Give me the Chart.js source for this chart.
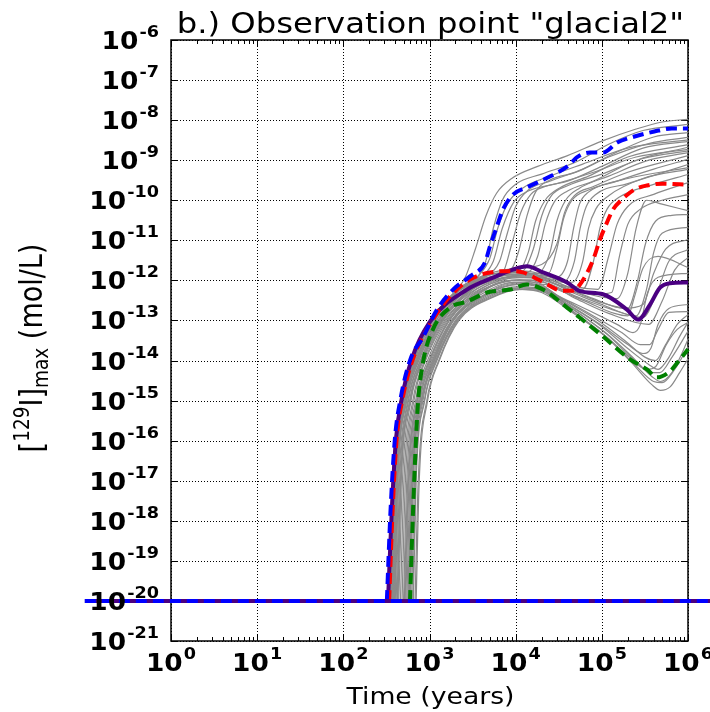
<!DOCTYPE html>
<html lang="en">
<head>
<meta charset="utf-8">
<title>Observation point glacial2</title>
<script src="https://cdn.jsdelivr.net/npm/chart.js@4.4.0/dist/chart.umd.min.js"></script>
<style>
	html, body { margin: 0; padding: 0; background: #fff; }
	canvas { display: block; }
</style>
</head>
<body>
<canvas id="chart-0" width="710" height="712"></canvas>
<script>
	// [time (years), [129I] (mol/L)] for the highlighted realisations
	var purpleRun = [[330,1e-20],[364,1.6e-18],[408,1.07e-16],[475,1.07e-15],[621,1.07e-14],[1000,9e-14],[2723,5.9e-13],[5458,1.17e-12],[9311,1.86e-12],[13520,2.24e-12],[20750,1.58e-12],[39450,8.9e-13],[55720,5.4e-13],[103000,4.5e-13],[195900,1.86e-13],[263000,1.05e-13],[362200,2.5e-13],[473200,6.6e-13],[618000,8.5e-13],[1e6,8.9e-13]];
	var blueRun = [[320,1e-20],[352,1.6e-18],[396,1.07e-16],[460,1.07e-15],[600,1.07e-14],[840,3.8e-14],[1222,1.86e-13],[1875,5.9e-13],[2951,1.26e-12],[4406,2.8e-12],[5035,7.1e-12],[6067,2.24e-11],[7130,5.9e-11],[9311,1.38e-10],[13520,2.1e-10],[24900,3.9e-10],[39450,6.9e-10],[52800,1.23e-9],[72780,1.55e-9],[103000,1.55e-9],[151000,2.75e-9],[240000,3.9e-9],[407000,5.2e-9],[650000,6.2e-9],[1e6,6.2e-9]];
	var redRun = [[340,1e-20],[372,1.6e-18],[415,1.07e-16],[485,1.07e-15],[640,1.07e-14],[1096,1.05e-13],[1730,4.0e-13],[2951,1.05e-12],[5035,1.58e-12],[8590,1.7e-12],[12160,1.58e-12],[19140,1.0e-12],[35400,5.5e-13],[45000,5.5e-13],[55720,7.9e-13],[78900,3.2e-12],[95200,1.05e-11],[114800,2.8e-11],[134900,5.9e-11],[171400,1.05e-10],[240000,1.86e-10],[334000,2.34e-10],[510000,2.6e-10],[1e6,2.45e-10]];
	var greenRun = [[594,1e-20],[643,1.6e-18],[697,1.07e-16],[735,8.9e-16],[840,8.9e-15],[1096,6.0e-14],[1730,2.1e-13],[2723,2.95e-13],[4645,5.0e-13],[8590,5.9e-13],[13520,7.9e-13],[20750,5.9e-13],[39450,2.1e-13],[55720,1.17e-13],[103000,4.0e-14],[212300,1.07e-14],[334200,6.0e-15],[436500,3.8e-15],[618000,5.4e-15],[807000,1.07e-14],[1e6,1.9e-14]];

	// the other realisations of the ensemble
	var greyRuns = [
		[[335,1e-20],[370,1e-17],[460,1e-15],[620,1e-14],[1000,1e-13],[1800,4e-13],[2600,1.2e-12],[3400,6e-12],[4500,4e-11],[6000,1.5e-10],[9000,3.5e-10],[18000,7e-10],[40000,1.3e-9],[100000,3e-9],[250000,6e-9],[500000,9e-9],[1e6,1.05e-8]],
		[[345,1e-20],[380,1e-17],[475,1e-15],[650,1e-14],[1050,1e-13],[2000,5e-13],[3500,1.1e-12],[4500,3e-12],[5500,2e-11],[7000,1e-10],[10000,2.5e-10],[20000,4.5e-10],[50000,9e-10],[120000,2.5e-9],[300000,5.5e-9],[1e6,7.8e-9]],
		[[350,1e-20],[385,1e-17],[480,1e-15],[660,1e-14],[1100,1e-13],[2200,6e-13],[4500,1.3e-12],[6500,3e-12],[8000,1.5e-11],[10000,7e-11],[14000,1.8e-10],[25000,3e-10],[60000,6e-10],[150000,1.6e-9],[400000,3.8e-9],[1e6,4.9e-9]],
		[[360,1e-20],[395,1e-17],[500,1e-15],[690,1e-14],[1150,1e-13],[2300,6e-13],[5000,1.4e-12],[9000,2e-12],[11000,6e-12],[13500,4e-11],[17000,1.6e-10],[25000,3.2e-10],[50000,5e-10],[120000,1.2e-9],[350000,2.6e-9],[1e6,3.7e-9]],
		[[370,1e-20],[405,1e-17],[510,1e-15],[700,1e-14],[1200,1e-13],[2500,7e-13],[5000,1.2e-12],[7000,1.5e-12],[9000,8e-12],[11500,5e-11],[15000,1.4e-10],[22000,2.2e-10],[40000,3e-10],[100000,7e-10],[300000,2e-9],[1e6,2.95e-9]],
		[[380,1e-20],[415,1e-17],[520,1e-15],[720,1e-14],[1250,1e-13],[2600,6e-13],[6000,1.5e-12],[11000,1.8e-12],[14000,5e-12],[17000,3e-11],[22000,1e-10],[32000,2e-10],[70000,4e-10],[200000,1.2e-9],[1e6,2.45e-9]],
		[[390,1e-20],[425,1e-17],[540,1e-15],[750,1e-14],[1300,1e-13],[2800,6e-13],[7000,1.3e-12],[14000,1.6e-12],[18000,4e-12],[22000,2.5e-11],[28000,9e-11],[40000,1.7e-10],[80000,3e-10],[250000,1e-9],[1e6,2.1e-9]],
		[[355,1e-20],[390,1e-17],[490,1e-15],[670,1e-14],[1100,1e-13],[2100,5e-13],[4000,1.2e-12],[5500,3e-12],[7000,2e-11],[9500,9e-11],[14000,1.7e-10],[30000,2.6e-10],[80000,5e-10],[250000,1.2e-9],[1e6,1.86e-9]],
		[[400,1e-20],[440,1e-17],[560,1e-15],[780,1e-14],[1350,1e-13],[3000,6e-13],[8000,1.4e-12],[18000,1.5e-12],[25000,5e-12],[30000,3e-11],[38000,1e-10],[55000,2e-10],[120000,4e-10],[350000,1e-9],[1e6,1.55e-9]],
		[[365,1e-20],[400,1e-17],[500,1e-15],[690,1e-14],[1150,1e-13],[2400,7e-13],[5000,1.5e-12],[10000,2e-12],[20000,2.5e-12],[30000,8e-12],[37000,5e-11],[48000,1.3e-10],[80000,2.2e-10],[200000,5e-10],[1e6,1.3e-9]],
		[[420,1e-20],[460,1e-17],[590,1e-15],[820,1e-14],[1400,1e-13],[3000,5e-13],[7000,1.1e-12],[15000,1.4e-12],[30000,1.2e-12],[40000,3e-12],[47000,2e-11],[55000,8e-11],[70000,1.6e-10],[150000,3e-10],[400000,6e-10],[1e6,1.05e-9]],
		[[440,1e-20],[485,1e-17],[610,1e-15],[850,1e-14],[1450,1e-13],[3200,6e-13],[8000,1.2e-12],[16000,1.3e-12],[35000,9e-13],[48000,3e-12],[56000,2e-11],[66000,7e-11],[85000,1.4e-10],[200000,2.6e-10],[1e6,7.8e-10]],
		[[348,1e-20],[383,1e-17],[480,1e-15],[655,1e-14],[1080,1e-13],[2100,6e-13],[3800,1.4e-12],[5000,3.5e-12],[6200,2e-11],[8000,8e-11],[12000,2e-10],[25000,4e-10],[60000,8e-10],[200000,2e-9],[1e6,3.2e-9]],
		[[385,1e-20],[420,1e-17],[530,1e-15],[730,1e-14],[1270,1e-13],[2700,6.5e-13],[6000,1.5e-12],[12000,1.7e-12],[16000,6e-12],[20000,4e-11],[26000,1.3e-10],[40000,2.3e-10],[100000,4.5e-10],[300000,1.1e-9],[1e6,1.7e-9]],
		[[430,1e-20],[470,1e-17],[600,1e-15],[830,1e-14],[1420,1e-13],[3100,6e-13],[7500,1.2e-12],[16000,1.5e-12],[24000,1.5e-12],[30000,6e-12],[36000,3.5e-11],[45000,1e-10],[70000,1.8e-10],[200000,3.5e-10],[1e6,6.5e-10]],
		[[375,1e-20],[410,1e-17],[520,1e-15],[710,1e-14],[1200,1e-13],[2500,6e-13],[6000,1.3e-12],[12000,1.6e-12],[25000,1.1e-12],[45000,9e-13],[60000,3e-12],[70000,2e-11],[85000,6e-11],[120000,1.3e-10],[300000,3.5e-10],[1e6,5.9e-10]],
		[[460,1e-20],[505,1e-17],[640,1e-15],[880,1e-14],[1500,1e-13],[3300,5e-13],[8000,1.1e-12],[15000,1.2e-12],[30000,8e-13],[60000,6e-13],[80000,3e-12],[95000,2e-11],[115000,6e-11],[160000,1.2e-10],[400000,2.5e-10],[1e6,4.4e-10]],
		[[395,1e-20],[430,1e-17],[545,1e-15],[750,1e-14],[1300,1e-13],[2800,7e-13],[6500,1.4e-12],[13000,1.7e-12],[25000,1.2e-12],[50000,7e-13],[90000,6e-13],[120000,4e-12],[150000,2.5e-11],[200000,7e-11],[400000,1.4e-10],[1e6,2.75e-10]],
		[[480,1e-20],[525,1e-17],[660,1e-15],[900,1e-14],[1550,1e-13],[3500,6e-13],[9000,1.2e-12],[18000,1.2e-12],[40000,7e-13],[80000,4.5e-13],[130000,5e-13],[160000,4e-12],[200000,2.5e-11],[280000,6e-11],[500000,1e-10],[1e6,1.38e-10]],
		[[410,1e-20],[450,1e-17],[570,1e-15],[790,1e-14],[1350,1e-13],[3000,6e-13],[7000,1.3e-12],[14000,1.5e-12],[30000,9e-13],[60000,5e-13],[150000,3.5e-13],[200000,1.5e-12],[250000,2e-11],[330000,1e-10],[500000,8e-11],[1e6,5.5e-11]],
		[[500,1e-20],[545,1e-17],[690,1e-15],[950,1e-14],[1600,1e-13],[3600,5e-13],[9000,1e-12],[18000,1.1e-12],[40000,6e-13],[90000,3e-13],[200000,2e-13],[260000,1e-12],[320000,8e-12],[420000,3e-11],[650000,4.2e-11],[1e6,4.4e-11]],
		[[520,1e-20],[570,1e-17],[720,1e-15],[1000,1e-14],[1700,1e-13],[3800,5e-13],[10000,1e-12],[20000,1e-12],[45000,5e-13],[100000,2.5e-13],[250000,1.3e-13],[330000,6e-13],[400000,5e-12],[500000,1.5e-11],[1e6,2.1e-11]],
		[[425,1e-20],[465,1e-17],[590,1e-15],[810,1e-14],[1400,1e-13],[3100,6e-13],[7500,1.2e-12],[15000,1.3e-12],[35000,7e-13],[80000,3.5e-13],[180000,2e-13],[300000,2.5e-13],[400000,1.5e-12],[550000,6e-12],[1e6,1.05e-11]],
		[[545,1e-20],[595,1e-17],[750,1e-15],[1050,1e-14],[1800,1e-13],[4000,4e-13],[10000,9e-13],[20000,9e-13],[50000,4e-13],[120000,2e-13],[300000,1.2e-13],[450000,6e-13],[600000,3e-12],[1e6,5.9e-12]],
		[[570,1e-20],[620,1e-17],[780,1e-15],[1100,1e-14],[1850,1e-13],[4200,4e-13],[11000,8e-13],[22000,8e-13],[50000,3.5e-13],[120000,1.5e-13],[350000,8e-14],[500000,3e-13],[700000,1.8e-12],[1e6,3.7e-12]],
		[[600,1e-20],[650,1e-17],[820,1e-15],[1150,1e-14],[1900,1e-13],[4200,4e-13],[10000,8e-13],[18000,7e-13],[40000,2.5e-13],[100000,7e-14],[200000,2e-14],[350000,8e-15],[450000,6e-15],[600000,1.2e-14],[800000,4e-14],[1e6,9e-14]],
		[[620,1e-20],[670,1e-17],[840,1e-15],[1180,1e-14],[2000,1e-13],[4500,4e-13],[11000,7e-13],[20000,6e-13],[45000,2e-13],[110000,5e-14],[220000,1.3e-14],[380000,4e-15],[480000,3e-15],[650000,5e-15],[850000,1.5e-14],[1e6,3.4e-14]],
		[[650,1e-20],[700,1e-17],[880,1e-15],[1220,1e-14],[2100,1e-13],[4800,3.5e-13],[11000,6e-13],[20000,5e-13],[45000,1.6e-13],[110000,4e-14],[220000,9e-15],[380000,2.5e-15],[480000,1.8e-15],[620000,2.2e-15],[800000,5e-15],[1e6,1.1e-14]],
		[[580,1e-20],[630,1e-17],[800,1e-15],[1120,1e-14],[1850,1e-13],[4000,4.5e-13],[9500,9e-13],[17000,8e-13],[38000,3e-13],[90000,1e-13],[190000,3e-14],[320000,1.2e-14],[420000,1e-14],[550000,2.5e-14],[750000,8e-14],[1e6,1.4e-13]],
		[[700,1e-20],[760,1e-17],[950,1e-15],[1300,1e-14],[2200,1e-13],[5000,3.5e-13],[12000,6e-13],[22000,5e-13],[50000,1.5e-13],[120000,3.5e-14],[240000,8e-15],[400000,3e-15],[500000,2.8e-15],[700000,6e-15],[1e6,2.2e-14]],
		[[560,1e-20],[610,1e-17],[770,1e-15],[1080,1e-14],[1800,1e-13],[4000,5e-13],[9000,1e-12],[16000,9e-13],[35000,3.5e-13],[80000,1.3e-13],[170000,5e-14],[280000,2.5e-14],[360000,2.5e-14],[450000,6e-14],[600000,1.6e-13],[1e6,1.66e-13]],
		[[680,1e-20],[740,1e-17],[930,1e-15],[1280,1e-14],[2150,1e-13],[4900,3.8e-13],[12000,6.5e-13],[21000,5.5e-13],[48000,1.8e-13],[115000,4.5e-14],[230000,1.1e-14],[380000,5e-15],[470000,5e-15],[650000,1.2e-14],[1e6,5.4e-14]],
		[[530,1e-20],[580,1e-17],[730,1e-15],[1020,1e-14],[1700,1e-13],[3800,5e-13],[8500,1e-12],[15000,1e-12],[32000,4e-13],[70000,1.8e-13],[150000,8e-14],[230000,5e-14],[280000,8e-14],[340000,5e-13],[450000,1.2e-12],[1e6,1.5e-12]],
		[[510,1e-20],[560,1e-17],[710,1e-15],[990,1e-14],[1650,1e-13],[3700,5.5e-13],[8000,1.1e-12],[15000,1.2e-12],[30000,6e-13],[65000,3e-13],[140000,1.5e-13],[200000,1.3e-13],[240000,4e-13],[300000,2e-12],[450000,4e-12],[1e6,2.1e-12]],
		[[640,1e-20],[690,1e-17],[870,1e-15],[1200,1e-14],[2050,1e-13],[4600,3.8e-13],[11000,6.5e-13],[20000,5.5e-13],[45000,1.7e-13],[105000,4.5e-14],[210000,1.2e-14],[330000,6e-15],[420000,7e-15],[560000,2.5e-14],[750000,6e-14],[1e6,8.9e-14]],
		[[590,1e-20],[640,1e-17],[810,1e-15],[1140,1e-14],[1900,1e-13],[4300,4.2e-13],[10000,8.5e-13],[18000,7.5e-13],[40000,2.6e-13],[95000,8e-14],[200000,2.5e-14],[300000,1.5e-14],[370000,2e-14],[450000,8e-14],[600000,2e-13],[1e6,2.5e-13]]
	];

	// concentrations below the floor are reported at the floor value
	var floorLevel = 1e-20;
	var floorSpan = [0.1, 1e7];

	var xTickPowers = [0, 1, 2, 3, 4, 5, 6];
	var yTickPowers = [-6, -7, -8, -9, -10, -11, -12, -13, -14, -15, -16, -17, -18, -19, -20, -21];

	var titleText = 'b.) Observation point "glacial2"';
	var xTitle = 'Time (years)';

	// the figure is a little wider than tall, so glyphs are stretched sideways
	var SX = 1.16;
	var SX_TICK = 1.1;

	function toPoints(run) {
		return run.map(function (p) { return { x: p[0], y: p[1] }; });
	}

	function curve(run, color, width, dash) {
		return {
			data: toPoints(run),
			borderColor: color,
			borderWidth: width,
			borderDash: dash || [],
			borderCapStyle: 'butt',
			pointRadius: 0,
			fill: false,
			clip: false,
			cubicInterpolationMode: 'monotone'
		};
	}

	var floorRun = [[floorSpan[0], floorLevel], [floorSpan[1], floorLevel]];

	// first dataset ends up on top
	var datasets = [
		curve(floorRun, '#0000ff', 4, [11, 6]),
		curve(floorRun, '#4b0082', 4),
		curve(blueRun, '#0000ff', 4, [11, 6]),
		curve(redRun, '#ff0000', 4, [11, 6]),
		curve(greenRun, '#008000', 4, [11, 6]),
		curve(purpleRun, '#4b0082', 4)
	];
	greyRuns.forEach(function (run) {
		datasets.push(curve(run, '#8a8a8a', 1.2));
	});

	function stretched(ctx, x, y, sx, draw) {
		ctx.save();
		ctx.translate(x, y);
		ctx.scale(sx, 1);
		draw(ctx);
		ctx.restore();
	}

	var BIG = 'bold 24px "DejaVu Sans"';
	var SMALL = 'bold 16px "DejaVu Sans"';

	// "10" with a raised exponent; anchor: 'right' or 'center'
	function powerLabel(ctx, power, x, y, anchor) {
		var exp = String(power);
		ctx.font = BIG;
		var w1 = ctx.measureText('10').width;
		ctx.font = SMALL;
		var w2 = ctx.measureText(exp).width;
		var total = (w1 + w2 + 1) * SX_TICK;
		var start = anchor === 'right' ? x - total : x - total / 2;
		stretched(ctx, start, y, SX_TICK, function (c) {
			c.textAlign = 'left';
			c.textBaseline = 'alphabetic';
			c.font = BIG;
			c.fillText('10', 0, 0);
			c.font = SMALL;
			c.fillText(exp, w1 + 1, -12);
		});
	}

	var axesFrame = {
		id: 'axesFrame',
		beforeDatasetsDraw: function (chart) {
			var ctx = chart.ctx, a = chart.chartArea;
			var xs = chart.scales.x, ys = chart.scales.y;
			ctx.save();
			ctx.strokeStyle = '#000';

			// dotted grid at every decade
			ctx.lineWidth = 1;
			ctx.setLineDash([1, 2]);
			ctx.beginPath();
			xTickPowers.forEach(function (p) {
				var px = Math.round(xs.getPixelForValue(Math.pow(10, p))) + 0.5;
				ctx.moveTo(px, a.top);
				ctx.lineTo(px, a.bottom);
			});
			yTickPowers.forEach(function (p) {
				var py = Math.round(ys.getPixelForValue(Math.pow(10, p))) + 0.5;
				ctx.moveTo(a.left, py);
				ctx.lineTo(a.right, py);
			});
			ctx.stroke();
			ctx.setLineDash([]);

			// tick marks pointing inwards
			ctx.lineWidth = 1;
			ctx.beginPath();
			xTickPowers.forEach(function (p, i) {
				var px = Math.round(xs.getPixelForValue(Math.pow(10, p))) + 0.5;
				ctx.moveTo(px, a.bottom); ctx.lineTo(px, a.bottom - 7);
				ctx.moveTo(px, a.top); ctx.lineTo(px, a.top + 7);
				if (i === xTickPowers.length - 1) return;
				for (var m = 2; m <= 9; m++) {
					var qx = Math.round(xs.getPixelForValue(m * Math.pow(10, p))) + 0.5;
					ctx.moveTo(qx, a.bottom); ctx.lineTo(qx, a.bottom - 4);
					ctx.moveTo(qx, a.top); ctx.lineTo(qx, a.top + 4);
				}
			});
			yTickPowers.forEach(function (p) {
				var py = Math.round(ys.getPixelForValue(Math.pow(10, p))) + 0.5;
				ctx.moveTo(a.left, py); ctx.lineTo(a.left + 7, py);
				ctx.moveTo(a.right, py); ctx.lineTo(a.right - 7, py);
			});
			ctx.stroke();

			// axes box
			ctx.lineWidth = 1.5;
			ctx.strokeRect(a.left, a.top, a.right - a.left, a.bottom - a.top);
			ctx.restore();
		},
		afterDraw: function (chart) {
			var ctx = chart.ctx, a = chart.chartArea;
			var xs = chart.scales.x, ys = chart.scales.y;
			var cx = (a.left + a.right) / 2;
			ctx.save();
			ctx.fillStyle = '#000';

			yTickPowers.forEach(function (p) {
				var py = ys.getPixelForValue(Math.pow(10, p));
				powerLabel(ctx, p, a.left - 12, py + 9, 'right');
			});
			xTickPowers.forEach(function (p) {
				var px = xs.getPixelForValue(Math.pow(10, p));
				powerLabel(ctx, p, px, a.bottom + 30, 'center');
			});

			// title and x label
			stretched(ctx, cx + 1, 33, SX, function (c) {
				c.font = '27.8px "DejaVu Sans"';
				c.textAlign = 'center';
				c.fillText(titleText, 0, 0);
			});
			stretched(ctx, cx + 1, 704, SX, function (c) {
				c.font = '23px "DejaVu Sans"';
				c.textAlign = 'center';
				c.fillText(xTitle, 0, 0);
			});

			// y label: [129I]max (mol/L), read bottom to top
			var parts = [
				{ t: '[', f: '27px "DejaVu Sans"', dy: 0 },
				{ t: '129', f: '18.5px "DejaVu Sans"', dy: -11 },
				{ t: 'I]', f: '27px "DejaVu Sans"', dy: 0 },
				{ t: 'max', f: '18.5px "DejaVu Sans"', dy: 5 },
				{ t: ' (mol/L)', f: '27px "DejaVu Sans"', dy: 0 }
			];
			var len = 0;
			parts.forEach(function (pt) { ctx.font = pt.f; pt.w = ctx.measureText(pt.t).width; len += pt.w; });
			ctx.save();
			ctx.translate(42, 348);
			ctx.scale(SX, 1);
			ctx.rotate(-Math.PI / 2);
			var pos = -len / 2;
			parts.forEach(function (pt) {
				ctx.font = pt.f;
				ctx.fillText(pt.t, pos, pt.dy);
				pos += pt.w;
			});
			ctx.restore();
			ctx.restore();
		}
	};

	var chart = new Chart('chart-0', {
		type: 'line',
		data: { datasets: datasets },
		options: {
			responsive: false,
			animation: false,
			devicePixelRatio: 1,
			layout: { padding: { top: 40, right: 22, left: 0, bottom: 0 } },
			plugins: { legend: { display: false }, tooltip: { enabled: false } },
			elements: { line: { tension: 0 } },
			scales: {
				x: {
					type: 'logarithmic',
					min: 1,
					max: 1e6,
					grid: { display: false },
					border: { display: false },
					ticks: { display: false },
					afterFit: function (scale) { scale.height = 71; }
				},
				y: {
					type: 'logarithmic',
					min: 1e-21,
					max: 1e-6,
					grid: { display: false },
					border: { display: false },
					ticks: { display: false },
					afterFit: function (scale) { scale.width = 171; }
				}
			}
		},
		plugins: [axesFrame]
	});
</script>
</body>
</html>
